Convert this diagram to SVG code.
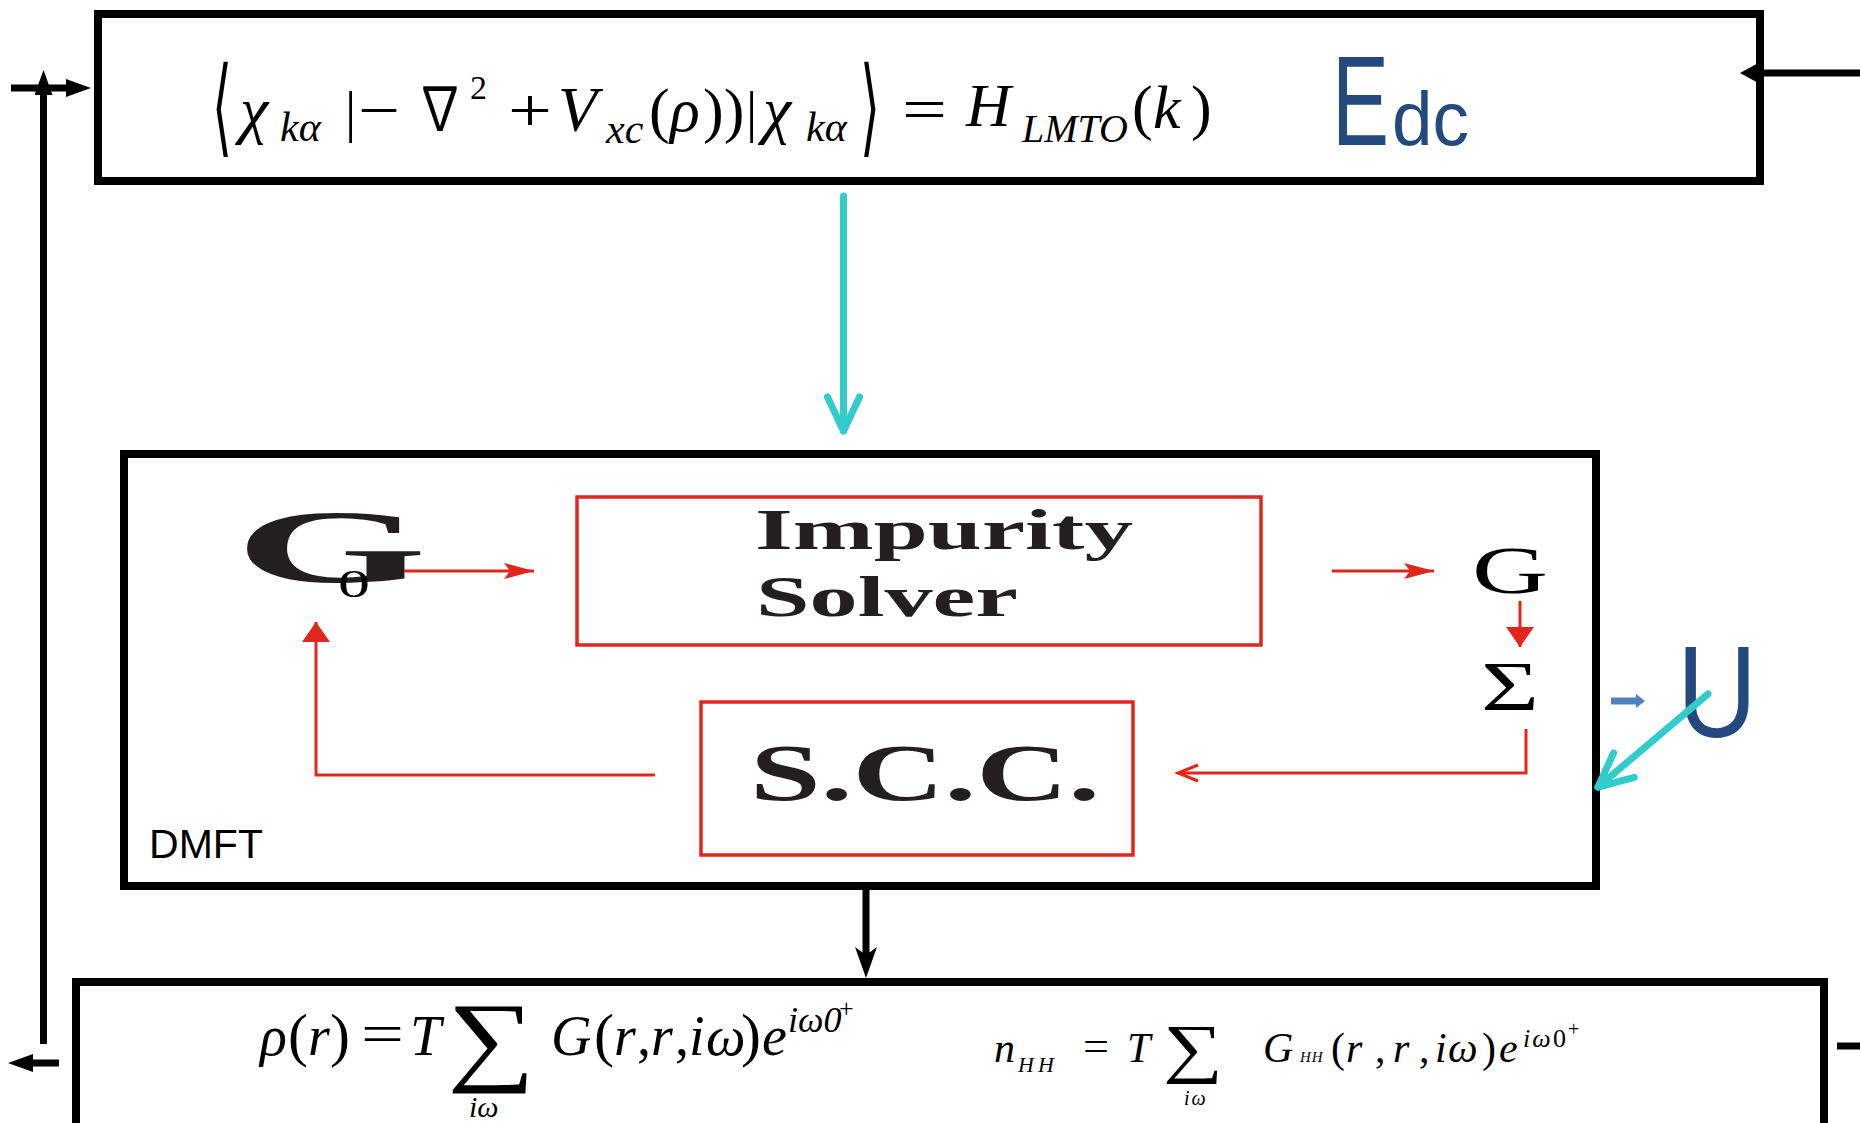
<svg xmlns="http://www.w3.org/2000/svg" width="1860" height="1123" viewBox="0 0 1860 1123">
<defs>
<style>
.box{fill:#fff;stroke:#000;stroke-width:8}
.rbox{fill:#fff;stroke:#e1261c;stroke-width:3.5}
.blk{stroke:#000;stroke-width:7;fill:none}
.red{stroke:#e1261c;stroke-width:3;fill:none}
.cyan{stroke:#33cccc;stroke-width:7;fill:none;stroke-linecap:round}
.blue{stroke:#4f81bd;stroke-width:7;fill:none}
.m{font-family:"Liberation Serif","Times New Roman",serif;fill:#000}
.i{font-style:italic}
.br{font-family:"DejaVu Serif","DejaVu Sans",serif}
.nab{font-family:"Noto Sans CJK JP","DejaVu Sans",sans-serif}
.bs{font-family:"Liberation Serif","Times New Roman",serif;font-weight:bold;fill:#231f20}
.sans{font-family:"Liberation Sans",Arial,sans-serif}
.db{fill:#23497f}
</style>
<marker id="ahRed" markerUnits="userSpaceOnUse" markerWidth="30" markerHeight="16" viewBox="0 0 30 16" refX="30" refY="8" orient="auto"><path d="M0,0 L30,8 L0,16 L6,8 z" fill="#e1261c"/></marker>
<marker id="ahRed2" markerUnits="userSpaceOnUse" markerWidth="20" markerHeight="28" viewBox="0 0 20 28" refX="20" refY="14" orient="auto"><path d="M0,0 L20,14 L0,28 z" fill="#e1261c"/></marker>
<marker id="ahRedOpen" markerUnits="userSpaceOnUse" markerWidth="24" markerHeight="20" viewBox="-2 -2 24 20" refX="20" refY="8" orient="auto" overflow="visible"><path d="M0,0 L20,8 L0,16" fill="none" stroke="#e1261c" stroke-width="3"/></marker>
<marker id="ahBlk" markerUnits="userSpaceOnUse" markerWidth="25" markerHeight="18" viewBox="0 0 25 18" refX="1" refY="9" orient="auto"><path d="M0,0 L25,9 L0,18 z" fill="#000"/></marker>
<marker id="ahBlkS" markerUnits="userSpaceOnUse" markerWidth="31" markerHeight="22" viewBox="0 0 31 22" refX="8" refY="11" orient="auto"><path d="M0,0 L31,11 L0,22 L8,11 z" fill="#000"/></marker>
<marker id="ahBlkR" markerUnits="userSpaceOnUse" markerWidth="22" markerHeight="24" viewBox="0 0 22 24" refX="6" refY="12" orient="auto"><path d="M0,0 L22,12 L0,24 L6,12 z" fill="#000"/></marker>
<marker id="ahCyan" markerUnits="userSpaceOnUse" markerWidth="44" markerHeight="42" viewBox="-5 -5 44 42" refX="34" refY="16" orient="auto" overflow="visible"><path d="M0,0 L34,16 L0,32" fill="none" stroke="#33cccc" stroke-width="7" stroke-linecap="round" stroke-linejoin="round"/></marker>
<marker id="ahBlue" markerUnits="userSpaceOnUse" markerWidth="9" markerHeight="14" viewBox="0 0 9 14" refX="0" refY="7" orient="auto"><path d="M0,0 L9,7 L0,14 z" fill="#4f81bd"/></marker>
</defs>
<rect width="1860" height="1123" fill="#fff"/>

<g id="node-lda">
<rect class="box" x="98" y="14" width="1662" height="167"/>
<g class="m">
<text class="br" x="212" y="143" font-size="107" textLength="20" lengthAdjust="spacingAndGlyphs">⟨</text>
<text class="i" x="240" y="131" font-size="64">χ</text>
<text class="i" x="280" y="141" font-size="42">kα</text>
<text x="345" y="131" font-size="56">|</text>
<text x="358" y="131" font-size="62" textLength="42" lengthAdjust="spacingAndGlyphs">−</text>
<text class="nab" x="416" y="130" font-size="60" textLength="48" lengthAdjust="spacingAndGlyphs">∇</text>
<text x="470" y="99" font-size="34">2</text>
<text x="508" y="131" font-size="62" textLength="44" lengthAdjust="spacingAndGlyphs">+</text>
<text class="i" x="558" y="131" font-size="64">V</text>
<text class="i" x="606" y="143" font-size="42">xc</text>
<text x="649" y="131" font-size="62">(</text>
<text class="i" x="670" y="131" font-size="62">ρ</text>
<text x="703" y="131" font-size="62">))</text>
<text x="746" y="131" font-size="56">|</text>
<text class="i" x="763" y="131" font-size="64">χ</text>
<text class="i" x="806" y="141" font-size="42">kα</text>
<text class="br" x="860" y="143" font-size="107" textLength="20" lengthAdjust="spacingAndGlyphs">⟩</text>
<text x="902" y="130" font-size="62" textLength="45" lengthAdjust="spacingAndGlyphs">=</text>
<text class="i" x="966" y="126" font-size="62">H</text>
<text class="i" x="1022" y="142" font-size="40">LMTO</text>
<text x="1132" y="128" font-size="62">(</text>
<text class="i" x="1153" y="128" font-size="62">k</text>
<text x="1191" y="128" font-size="62">)</text>
</g>
<g class="sans db">
<text x="1332" y="145" font-size="128" textLength="57" lengthAdjust="spacingAndGlyphs">E</text>
<text x="1392" y="145" font-size="76" textLength="77" lengthAdjust="spacingAndGlyphs">dc</text>
</g>
</g>

<g id="node-dmft">
<rect class="box" x="124" y="454" width="1472" height="432"/>
<text class="sans" x="149" y="858" font-size="41" textLength="114" lengthAdjust="spacingAndGlyphs">DMFT</text>
</g>

<g id="node-g0">
<text class="bs" x="235" y="582" font-size="104" textLength="192" lengthAdjust="spacingAndGlyphs">G</text>
<text class="m" x="338" y="597" font-size="40" textLength="32" lengthAdjust="spacingAndGlyphs" fill="#231f20">0</text>
</g>

<g id="node-impurity">
<rect class="rbox" x="577" y="497" width="684" height="148"/>
<text class="bs" x="755" y="549" font-size="57" textLength="378" lengthAdjust="spacingAndGlyphs">Impurity</text>
<text class="bs" x="756" y="616" font-size="57" textLength="262" lengthAdjust="spacingAndGlyphs">Solver</text>
</g>

<g id="node-g">
<text class="m" x="1472" y="593" font-size="68" textLength="76" lengthAdjust="spacingAndGlyphs" fill="#231f20">G</text>
</g>

<g id="node-sigma">
<text class="m" x="1481" y="710" font-size="70" textLength="58" lengthAdjust="spacingAndGlyphs" fill="#231f20">Σ</text>
</g>

<g id="node-scc">
<rect class="rbox" x="701" y="702" width="432" height="153"/>
<text class="bs" x="750" y="800" font-size="80" textLength="350" lengthAdjust="spacingAndGlyphs">S.C.C.</text>
</g>

<g id="node-u">
<text class="sans db" x="1677" y="737" font-size="130" textLength="80" lengthAdjust="spacingAndGlyphs">U</text>
</g>

<g id="node-density">
<rect class="box" x="76" y="982" width="1748" height="160"/>
<g class="m">
<text class="i" x="260" y="1055" font-size="56">ρ</text>
<text x="288" y="1055" font-size="60">(</text>
<text class="i" x="308" y="1055" font-size="56">r</text>
<text x="330" y="1055" font-size="60">)</text>
<text x="361" y="1053" font-size="56" textLength="43" lengthAdjust="spacingAndGlyphs">=</text>
<text class="i" x="410" y="1055" font-size="56">T</text>
<text x="447" y="1072" font-size="100" textLength="88" lengthAdjust="spacingAndGlyphs">∑</text>
<text class="i" x="469" y="1117" font-size="30">iω</text>
<text class="i" x="551" y="1055" font-size="56">G</text>
<text x="594" y="1055" font-size="60">(</text>
<text class="i" x="614" y="1055" font-size="56">r</text>
<text x="637" y="1055" font-size="56">,</text>
<text class="i" x="651" y="1055" font-size="56">r</text>
<text x="675" y="1055" font-size="56">,</text>
<text class="i" x="689" y="1055" font-size="56">i</text>
<text class="i" x="706" y="1055" font-size="56">ω</text>
<text x="741" y="1055" font-size="60">)</text>
<text class="i" x="762" y="1055" font-size="56">e</text>
<text class="i" x="788" y="1032" font-size="36">iω0</text>
<text x="839" y="1017" font-size="26">+</text>
</g>
<g class="m">
<text class="i" x="994" y="1062" font-size="42">n</text>
<text class="i" x="1018" y="1072" font-size="22" letter-spacing="4">HH</text>
<text x="1083" y="1060" font-size="42" textLength="26" lengthAdjust="spacingAndGlyphs">=</text>
<text class="i" x="1127" y="1062" font-size="42">T</text>
<text x="1163" y="1070" font-size="66" textLength="60" lengthAdjust="spacingAndGlyphs">∑</text>
<text class="i" x="1184" y="1105" font-size="20" letter-spacing="2">iω</text>
<text class="i" x="1263" y="1062" font-size="42">G</text>
<text class="i" x="1300" y="1062" font-size="15" letter-spacing="1">HH</text>
<text x="1331" y="1062" font-size="42">(</text>
<text class="i" x="1346" y="1062" font-size="42">r</text>
<text x="1375" y="1062" font-size="42">,</text>
<text class="i" x="1393" y="1062" font-size="42">r</text>
<text x="1419" y="1062" font-size="42">,</text>
<text class="i" x="1435" y="1062" font-size="42">i</text>
<text class="i" x="1448" y="1062" font-size="42">ω</text>
<text x="1482" y="1062" font-size="42">)</text>
<text class="i" x="1499" y="1062" font-size="42">e</text>
<text class="i" x="1523" y="1047" font-size="26" letter-spacing="2">iω</text>
<text x="1553" y="1047" font-size="26">0</text>
<text x="1568" y="1036" font-size="20">+</text>
</g>
</g>

<g id="connectors">
<line class="blk" x1="11" y1="88" x2="67" y2="88" marker-end="url(#ahBlk)"/>
<line class="blk" x1="43.5" y1="1044" x2="43.5" y2="94" marker-end="url(#ahBlk)"/>
<line class="blk" x1="59" y1="1063" x2="32" y2="1063" marker-end="url(#ahBlk)"/>
<line class="blk" x1="1860" y1="73" x2="1756" y2="73" marker-end="url(#ahBlkR)"/>
<line class="blk" x1="1837" y1="1046" x2="1860" y2="1046"/>
<line class="blk" x1="866" y1="890" x2="866" y2="955" marker-end="url(#ahBlkS)"/>
<line class="cyan" x1="843.5" y1="196" x2="843.5" y2="431" marker-end="url(#ahCyan)"/>
<line class="cyan" x1="1708" y1="694" x2="1598" y2="787" marker-end="url(#ahCyan)"/>
<line class="blue" x1="1611" y1="701" x2="1636" y2="701" marker-end="url(#ahBlue)"/>
<line class="red" x1="404" y1="571" x2="534" y2="571" marker-end="url(#ahRed)"/>
<line class="red" x1="1332" y1="571" x2="1434" y2="571" marker-end="url(#ahRed)"/>
<line class="red" x1="1520" y1="601" x2="1520" y2="647" marker-end="url(#ahRed2)"/>
<polyline class="red" points="1526,729 1526,773 1178,773" marker-end="url(#ahRedOpen)"/>
<polyline class="red" points="655,775 316,775 316,622" marker-end="url(#ahRed2)"/>
</g>
</svg>
